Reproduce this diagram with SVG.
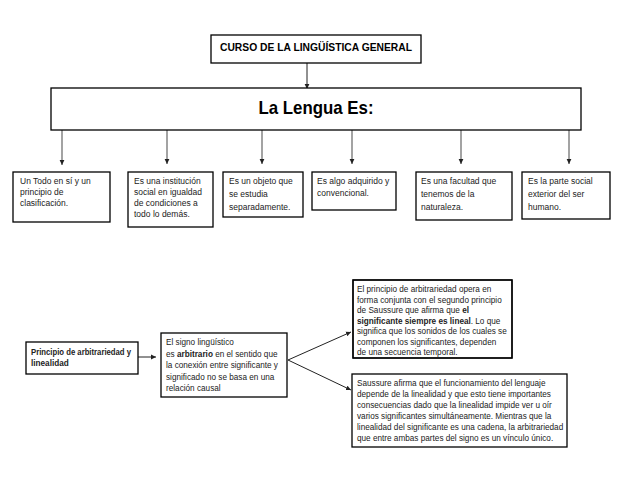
<svg xmlns="http://www.w3.org/2000/svg" width="638" height="493" viewBox="0 0 638 493">
<style>
.box{fill:#fff;stroke:#000;stroke-width:1.3}
.t{font-family:"Liberation Sans",Arial,sans-serif;font-size:8.5px;fill:#222}
.s{font-family:"Liberation Sans",Arial,sans-serif;font-size:8.2px;fill:#222}
.h{font-family:"Liberation Sans",Arial,sans-serif;font-weight:bold;fill:#000}
.b{font-weight:bold}
.c{stroke:#222;stroke-width:1;fill:none}
.g{stroke:#666;stroke-width:1.2;fill:none}
</style>
<defs>
<marker id="ah" markerWidth="6" markerHeight="6" refX="5" refY="3" orient="auto" markerUnits="userSpaceOnUse"><path d="M0,0.6 L5,3 L0,5.4 Z" fill="#222"/></marker>
<clipPath id="clipA"><rect x="353" y="280" width="159" height="78"/></clipPath>
</defs>
<rect width="638" height="493" fill="#fff"/>

<g id="connectors">
<path class="c" d="M307,63 V89" marker-end="url(#ah)"/>
<path class="g" d="M62,130 V165" marker-end="url(#ah)"/>
<path class="g" d="M167,130 V164" marker-end="url(#ah)"/>
<path class="g" d="M262,130 V164" marker-end="url(#ah)"/>
<path class="g" d="M352,130 V164" marker-end="url(#ah)"/>
<path class="g" d="M461,130 V164" marker-end="url(#ah)"/>
<path class="g" d="M569,130 V164" marker-end="url(#ah)"/>
<path class="c" d="M138,357 H156" marker-end="url(#ah)"/>
<path class="c" d="M288,360 L351,332" marker-end="url(#ah)"/>
<path class="c" d="M288,360 L351,390" marker-end="url(#ah)"/>
</g>

<g id="title">
<rect class="box" x="211" y="35" width="210" height="28"/>
<text class="h" x="316" y="51" font-size="11" text-anchor="middle" textLength="192" lengthAdjust="spacingAndGlyphs">CURSO DE LA LINGÜÍSTICA GENERAL</text>
</g>

<g id="lengua">
<rect class="box" x="51" y="88" width="530" height="42"/>
<text class="h" x="316" y="114" font-size="19" text-anchor="middle" textLength="115" lengthAdjust="spacingAndGlyphs">La Lengua Es:</text>
</g>

<g id="n1">
<rect class="box" x="13" y="172" width="97" height="50"/>
<text class="t" x="20" y="184">Un Todo en sí y un</text>
<text class="t" x="20" y="195">principio de</text>
<text class="t" x="20" y="206">clasificación.</text>
</g>

<g id="n2">
<rect class="box" x="128" y="172" width="85" height="55"/>
<text class="t" x="134" y="184">Es una institución</text>
<text class="t" x="134" y="195">social en igualdad</text>
<text class="t" x="134" y="206">de condiciones a</text>
<text class="t" x="134" y="217">todo lo demás.</text>
</g>

<g id="n3">
<rect class="box" x="223" y="172" width="80" height="45"/>
<text class="t" x="229" y="184">Es un objeto que</text>
<text class="t" x="229" y="197">se estudia</text>
<text class="t" x="229" y="210">separadamente.</text>
</g>

<g id="n4">
<rect class="box" x="312" y="172" width="84" height="38"/>
<text class="t" x="317" y="184">Es algo adquirido y</text>
<text class="t" x="317" y="196">convencional.</text>
</g>

<g id="n5">
<rect class="box" x="416" y="172" width="96" height="48"/>
<text class="t" x="421" y="184">Es una facultad que</text>
<text class="t" x="421" y="197">tenemos de la</text>
<text class="t" x="421" y="210">naturaleza.</text>
</g>

<g id="n6">
<rect class="box" x="522" y="172" width="88" height="47"/>
<text class="t" x="528" y="184">Es la parte social</text>
<text class="t" x="528" y="197">exterior del ser</text>
<text class="t" x="528" y="210">humano.</text>
</g>

<g id="principio">
<rect class="box" x="26" y="342" width="112" height="32"/>
<text class="s b" x="31" y="355" font-size="7.6" textLength="100" lengthAdjust="spacingAndGlyphs">Principio de arbitrariedad y</text>
<text class="s b" x="31" y="366" font-size="7.6">linealidad</text>
</g>

<g id="signo">
<rect class="box" x="161" y="333" width="126" height="64"/>
<text class="s" x="166" y="345">El signo lingüístico</text>
<text class="s" x="166" y="356.5">es <tspan class="b">arbitrario</tspan> en el sentido que</text>
<text class="s" x="166" y="368">la conexión entre significante y</text>
<text class="s" x="166" y="379.5">significado no se basa en una</text>
<text class="s" x="166" y="391">relación causal</text>
</g>

<g id="linealidad">
<rect class="box" x="353" y="280" width="159" height="78"/>
<g clip-path="url(#clipA)">
<text class="s" x="357" y="292">El principio de arbitrariedad opera en</text>
<text class="s" x="357" y="302.5">forma conjunta con el segundo principio</text>
<text class="s" x="357" y="313">de Saussure que afirma que <tspan class="b">el</tspan></text>
<text class="s" x="357" y="323.5"><tspan class="b">significante siempre es lineal</tspan>. Lo que</text>
<text class="s" x="357" y="334">significa que los sonidos de los cuales se</text>
<text class="s" x="357" y="344.5">componen los significantes, dependen</text>
<text class="s" x="357" y="355">de una secuencia temporal.</text>
</g>
<rect x="353" y="280" width="159" height="78" fill="none" stroke="#000" stroke-width="1.3"/>
</g>

<g id="saussure">
<rect class="box" x="352" y="374" width="215" height="73"/>
<text class="s" x="357" y="386">Saussure afirma que el funcionamiento del lenguaje</text>
<text class="s" x="357" y="397">depende de la linealidad y que esto tiene importantes</text>
<text class="s" x="357" y="408">consecuencias dado que la linealidad impide ver u oír</text>
<text class="s" x="357" y="419">varios significantes simultáneamente. Mientras que la</text>
<text class="s" x="357" y="430">linealidad del significante es una cadena, la arbitrariedad</text>
<text class="s" x="357" y="441">que entre ambas partes del signo es un vínculo único.</text>
</g>
</svg>
